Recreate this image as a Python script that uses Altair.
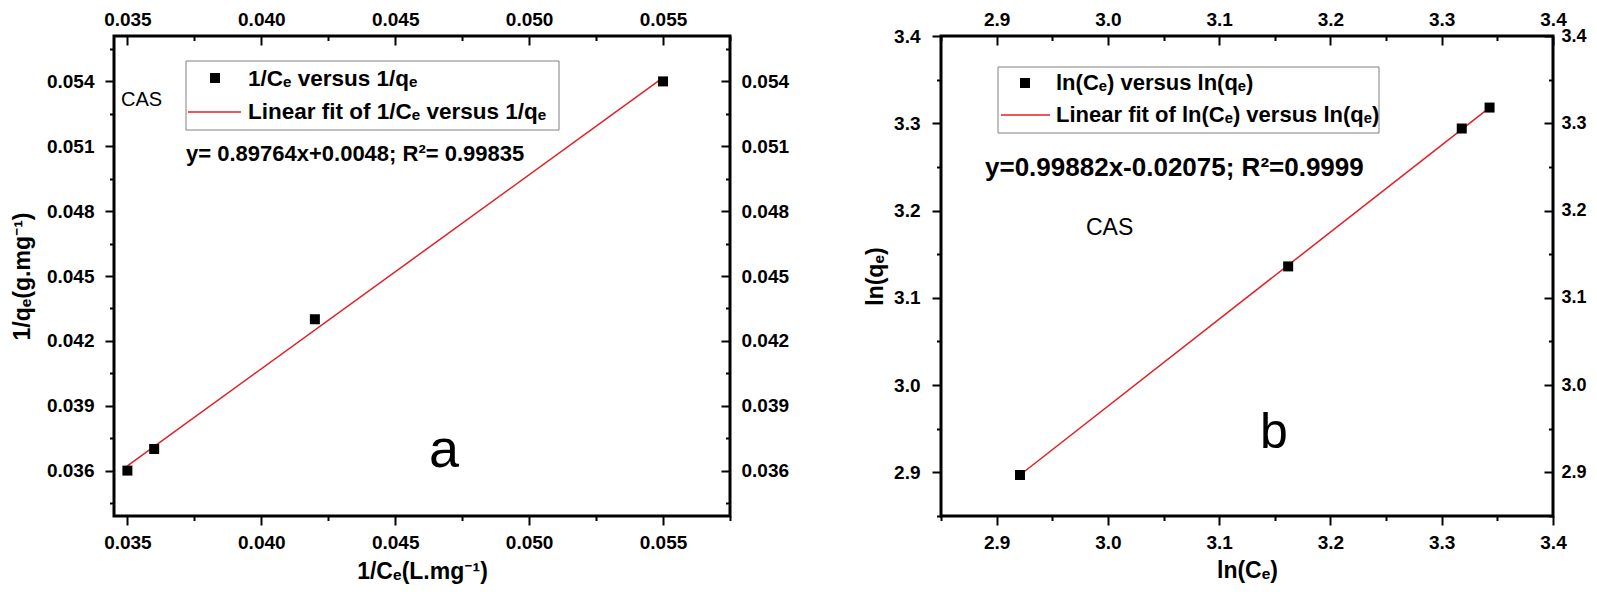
import altair as alt
import pandas as pd

FONT = "Liberation Sans, Arial, Noto Sans, DejaVu Sans"
RED = "#e31e24"

# ---------------- panel a data ----------------
a_x = [0.035, 0.036, 0.042, 0.055]
a_y = [0.036, 0.037, 0.043, 0.054]
a_fit_x = [0.035, 0.055]
a_fit_y = [0.03622, 0.05417]
a_x_domain = [0.0345, 0.0575]
a_y_domain = [0.0339, 0.0561]
a_x_major = [0.035, 0.040, 0.045, 0.050, 0.055]
a_x_minor = [0.0375, 0.0425, 0.0475, 0.0525, 0.0575]
a_y_major = [0.036, 0.039, 0.042, 0.045, 0.048, 0.051, 0.054]
a_y_minor = [0.0345, 0.0375, 0.0405, 0.0435, 0.0465, 0.0495, 0.0525, 0.0555]
a_x_title = "1/Cₑ(L.mg⁻¹)"
a_y_title = "1/qₑ(g.mg⁻¹)"
a_leg1 = "1/Cₑ versus 1/qₑ"
a_leg2 = "Linear fit of 1/Cₑ versus 1/qₑ"
a_eq = "y= 0.89764x+0.0048; R²= 0.99835"
a_tag = "CAS"
a_letter = "a"

# ---------------- panel b data ----------------
b_x = [2.921, 3.162, 3.318, 3.343]
b_y = [2.897, 3.136, 3.294, 3.318]
b_fit_x = [2.921, 3.343]
b_fit_y = [2.897, 3.318]
b_x_domain = [2.85, 3.4]
b_y_domain = [2.85, 3.4]
b_x_major = [2.9, 3.0, 3.1, 3.2, 3.3, 3.4]
b_x_minor = [2.85, 2.95, 3.05, 3.15, 3.25, 3.35]
b_y_major = [2.9, 3.0, 3.1, 3.2, 3.3, 3.4]
b_y_minor = [2.85, 2.95, 3.05, 3.15, 3.25, 3.35]
b_x_title = "ln(Cₑ)"
b_y_title = "ln(qₑ)"
b_leg1 = "ln(Cₑ) versus ln(qₑ)"
b_leg2 = "Linear fit of ln(Cₑ) versus ln(qₑ)"
b_eq = "y=0.99882x-0.02075; R²=0.9999"
b_tag = "CAS"
b_letter = "b"

H = 480
TICK = 9
MINOR = 4.5
LAB = 19

one = pd.DataFrame({"k": [0]})


def ax(**kw):
    base = dict(domain=False, grid=False, labelFlush=False, labelOverlap=False,
                tickColor="black", tickWidth=2, labelFont=FONT, labelFontWeight="bold",
                labelFontSize=LAB, labelColor="black", titleFont=FONT,
                titleFontWeight="bold", titleColor="black")
    base.update(kw)
    return alt.Axis(**base)


def txt(s, x, y, size, weight="bold", align="left", baseline="middle"):
    return alt.Chart(one).mark_text(
        text=s, font=FONT, fontSize=size, fontWeight=weight, align=align,
        baseline=baseline, color="black"
    ).encode(x=alt.value(x), y=alt.value(y))


def panel(width, px, py, fx, fy, xdom, ydom, xmaj, xmin, ymaj, ymin, xfmt, yfmt, yrfmt,
          xtitle, ytitle, xtitle_size, ytitle_size, xtpad, ytpad, ylabpad,
          rlabsize, rlabpad, leg, extra):
    pts = pd.DataFrame({"x": px, "y": py})
    fit = pd.DataFrame({"x": fx, "y": fy})
    xs = alt.Scale(domain=xdom, nice=False, zero=False)
    ys = alt.Scale(domain=ydom, nice=False, zero=False)

    minor_out = alt.Chart(pts).mark_point(opacity=0).encode(
        x=alt.X("x:Q", scale=xs, axis=ax(orient="bottom", values=xmin, labels=False,
                                         tickSize=MINOR, title=None)),
        y=alt.Y("y:Q", scale=ys, axis=ax(orient="left", values=ymin, labels=False,
                                         tickSize=MINOR, title=None)),
    )
    minor_in = alt.Chart(pts).mark_point(opacity=0).encode(
        x=alt.X("x:Q", scale=xs, axis=ax(orient="top", values=xmin, labels=False,
                                         tickSize=MINOR, offset=-MINOR, title=None)),
        y=alt.Y("y:Q", scale=ys, axis=ax(orient="right", values=ymin, labels=False,
                                         tickSize=MINOR, offset=-MINOR, title=None)),
    )
    line = alt.Chart(fit).mark_line(color=RED, strokeWidth=1.5).encode(
        x=alt.X("x:Q", scale=xs, axis=ax(orient="top", values=xmaj, format=xfmt,
                                         tickSize=TICK, offset=-TICK, labelPadding=7,
                                         title=None)),
        y=alt.Y("y:Q", scale=ys, axis=ax(orient="right", values=ymaj, format=yrfmt,
                                         tickSize=TICK, offset=-TICK, labelPadding=rlabpad,
                                         labelFontSize=rlabsize, title=None)),
    )
    points = alt.Chart(pts).mark_square(size=100, color="black", opacity=1).encode(
        x=alt.X("x:Q", scale=xs, axis=ax(orient="bottom", values=xmaj, format=xfmt,
                                         tickSize=TICK, labelPadding=8, title=xtitle,
                                         titleFontSize=xtitle_size, titlePadding=xtpad)),
        y=alt.Y("y:Q", scale=ys, axis=ax(orient="left", values=ymaj, format=yfmt,
                                         tickSize=TICK, labelPadding=ylabpad, title=ytitle,
                                         titleFontSize=ytitle_size, titlePadding=ytpad)),
    )

    (bx0, bx1, by0, by1, sqx, sqy, rx0, rx1, ry, tx, t1y, t2y, s1, s2, fs) = leg
    box = alt.Chart(one).mark_rect(fill="white", stroke="#808080", strokeWidth=1).encode(
        x=alt.value(bx0), x2=alt.value(bx1), y=alt.value(by0), y2=alt.value(by1))
    sq = alt.Chart(one).mark_square(size=100, color="black", opacity=1).encode(
        x=alt.value(sqx), y=alt.value(sqy))
    rl = alt.Chart(one).mark_rule(color=RED, strokeWidth=1.5).encode(
        x=alt.value(rx0), x2=alt.value(rx1), y=alt.value(ry))
    layers = [minor_out, minor_in, line, points, box, sq, rl,
              txt(s1, tx, t1y, fs), txt(s2, tx, t2y, fs)] + extra
    return alt.layer(*layers).resolve_axis(x="independent", y="independent").properties(
        width=width, height=H)


left = panel(
    616, a_x, a_y, a_fit_x, a_fit_y, a_x_domain, a_y_domain, a_x_major, a_x_minor,
    a_y_major, a_y_minor, ".3f", ".3f", ".3f", a_x_title, a_y_title, 23, 23, 8, 12, 11,
    LAB, 11,
    (72, 445, 25, 94, 101, 42, 74, 127, 76, 134, 43, 76, a_leg1, a_leg2, 22.5),
    [
        txt(a_tag, 7, 64, 20, weight="normal"),
        txt(a_eq, 72, 118, 22),
        txt(a_letter, 330, 431, 54, weight="normal", align="center", baseline="alphabetic"),
    ],
)

right = panel(
    612, b_x, b_y, b_fit_x, b_fit_y, b_x_domain, b_y_domain, b_x_major, b_x_minor,
    b_y_major, b_y_minor, ".1f", ".1f", ".1f", b_x_title, b_y_title, 23, 23, 7, 6, 12,
    18, 8,
    (57, 438, 31, 97, 84, 47, 60, 109, 79, 115, 47, 79, b_leg1, b_leg2, 22),
    [
        txt(b_eq, 44, 132, 26),
        txt(b_tag, 145, 192, 23, weight="normal"),
        txt(b_letter, 333, 412, 50, weight="normal", align="center", baseline="alphabetic"),
    ],
)

chart = alt.hconcat(left, right, spacing=72).properties(
    padding={"left": 1, "top": 0, "right": 0, "bottom": 0},
    background="white",
).configure_view(stroke="black", strokeWidth=3).configure_axis(labelFontWeight="bold")

chart.save("out.html", embed_options={"renderer": "svg", "actions": False})
